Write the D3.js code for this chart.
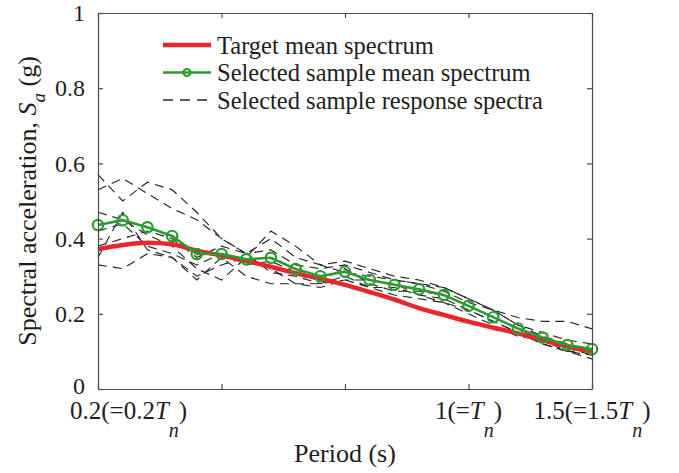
<!DOCTYPE html>
<html>
<head>
<meta charset="utf-8">
<script src="https://cdn.jsdelivr.net/npm/d3@7"></script>
<style>
  html, body { margin: 0; padding: 0; background: #fff; }
  svg { display: block; font-family: "Liberation Serif", "Times New Roman", serif; }
</style>
</head>
<body>
<svg id="chart" width="679" height="473"></svg>
<script>
// Periods (s) at which the spectra are evaluated
const periods = [0.2, 0.2533, 0.3067, 0.36, 0.4133, 0.4667, 0.52, 0.5733, 0.6267, 0.68,
                 0.7333, 0.7867, 0.84, 0.8933, 0.9467, 1.0, 1.1, 1.2, 1.3, 1.4, 1.5];

// Target mean spectrum Sa (g)
const targetMean = [0.372, 0.383, 0.389, 0.385, 0.368, 0.355, 0.341, 0.325, 0.308, 0.293,
                    0.277, 0.258, 0.238, 0.215, 0.197, 0.179, 0.163, 0.148, 0.130, 0.113, 0.099];

// Mean of the selected records
const sampleMean = [0.436, 0.449, 0.430, 0.407, 0.359, 0.359, 0.345, 0.349, 0.319, 0.300,
                    0.312, 0.290, 0.277, 0.265, 0.250, 0.221, 0.191, 0.161, 0.137, 0.117, 0.106];

// Response spectra of the individual selected records
const record1 = [0.57, 0.50, 0.55, 0.53, 0.47, 0.40, 0.36, 0.40, 0.35, 0.33, 0.34, 0.32, 0.30, 0.29, 0.27, 0.24, 0.21, 0.17, 0.15, 0.13, 0.12];
const record2 = [0.53, 0.56, 0.52, 0.48, 0.45, 0.40, 0.36, 0.37, 0.33, 0.32, 0.33, 0.31, 0.29, 0.28, 0.26, 0.23, 0.21, 0.19, 0.18, 0.18, 0.16];
const record3 = [0.47, 0.45, 0.41, 0.38, 0.32, 0.29, 0.35, 0.42, 0.38, 0.33, 0.31, 0.30, 0.29, 0.28, 0.27, 0.24, 0.21, 0.17, 0.14, 0.12, 0.10];
const record4 = [0.42, 0.44, 0.38, 0.36, 0.33, 0.36, 0.33, 0.34, 0.31, 0.29, 0.32, 0.28, 0.26, 0.26, 0.25, 0.22, 0.19, 0.16, 0.13, 0.11, 0.09];
const record5 = [0.38, 0.40, 0.42, 0.40, 0.35, 0.38, 0.36, 0.31, 0.30, 0.28, 0.30, 0.27, 0.27, 0.25, 0.24, 0.21, 0.18, 0.15, 0.12, 0.10, 0.09];
const record6 = [0.33, 0.32, 0.36, 0.35, 0.30, 0.33, 0.35, 0.32, 0.28, 0.27, 0.29, 0.27, 0.25, 0.24, 0.23, 0.21, 0.18, 0.15, 0.12, 0.10, 0.08];
const record7 = [0.35, 0.47, 0.37, 0.35, 0.29, 0.35, 0.30, 0.28, 0.28, 0.28, 0.29, 0.29, 0.28, 0.25, 0.23, 0.20, 0.17, 0.14, 0.13, 0.10, 0.10];
const records = [record1, record2, record3, record4, record5, record6, record7];

// Axis ticks
const xTicks = [0.2, 0.4667, 0.7333, 1.0, 1.5];
const xTickLabels = ["0.2(=0.2T_n)", "", "", "1(=T_n)", "1.5(=1.5T_n)"];
const yTicks = [0, 0.2, 0.4, 0.6, 0.8, 1];
const yTickLabels = ["0", "0.2", "0.4", "0.6", "0.8", "1"];

const legendLabels = ["Target mean spectrum", "Selected sample mean spectrum", "Selected sample response spectra"];

// ---- drawing ----
const svg = d3.select("#chart");
const plotLeft = 98, plotRight = 592, plotTop = 13, plotBottom = 389;
const axisColor = "#4a4a4a";
const red = "#e8262b", green = "#2e9b32";
const textColor = "#1e1e1e";

// Period axis: 0.2–1.0 spans three quarters of the width, 1.0–1.5 the last quarter
const x = d3.scaleLinear().domain([0.2, 1.0, 1.5])
  .range([plotLeft, plotLeft + 0.75 * (plotRight - plotLeft), plotRight]);
const y = d3.scaleLinear().domain([0, 1]).range([plotBottom, plotTop]);

const line = d3.line().x((d, i) => x(periods[i])).y(d => y(d));
const smooth = d3.line().x((d, i) => x(periods[i])).y(d => y(d)).curve(d3.curveMonotoneX);

const plot = svg.append("g");

// individual record spectra
plot.selectAll("path.rec").data(records).join("path")
  .attr("class", "rec")
  .attr("d", line)
  .attr("fill", "none")
  .attr("stroke", "#262626")
  .attr("stroke-width", 1.15)
  .attr("stroke-dasharray", "9,6");

// target spectrum
plot.append("path").datum(targetMean)
  .attr("d", smooth)
  .attr("fill", "none")
  .attr("stroke", red)
  .attr("stroke-width", 4.5)
  .attr("stroke-linejoin", "round");

// selected sample mean
plot.append("path").datum(sampleMean)
  .attr("d", line)
  .attr("fill", "none")
  .attr("stroke", green)
  .attr("stroke-width", 2.6);
plot.selectAll("circle.m").data(sampleMean).join("circle")
  .attr("class", "m")
  .attr("cx", (d, i) => x(periods[i]))
  .attr("cy", d => y(d))
  .attr("r", 5.2)
  .attr("fill", "none")
  .attr("stroke", green)
  .attr("stroke-width", 2.2);

// axes (box with inward ticks on all sides)
function styleAxis(g) {
  g.selectAll("path, line").attr("stroke", axisColor).attr("stroke-width", 1.2);
  g.selectAll("text").attr("fill", textColor).attr("font-family", "Liberation Serif, Times New Roman, serif");
}
svg.append("g").attr("transform", `translate(0,${plotBottom})`)
  .call(d3.axisBottom(x).tickValues(xTicks).tickSizeInner(-5).tickSizeOuter(0).tickFormat(""))
  .call(styleAxis);
svg.append("g").attr("transform", `translate(0,${plotTop})`)
  .call(d3.axisTop(x).tickValues(xTicks).tickSizeInner(-5).tickSizeOuter(0).tickFormat(""))
  .call(styleAxis);
svg.append("g").attr("transform", `translate(${plotRight},0)`)
  .call(d3.axisRight(y).tickValues(yTicks).tickSizeInner(-5).tickSizeOuter(0).tickFormat(""))
  .call(styleAxis);
const yAxis = svg.append("g").attr("transform", `translate(${plotLeft},0)`)
  .call(d3.axisLeft(y).tickValues(yTicks).tickSizeInner(-5).tickSizeOuter(0).tickPadding(13)
        .tickFormat((d, i) => yTickLabels[i]))
  .call(styleAxis);
yAxis.selectAll("text").attr("font-size", 24);
// the zero label sits a little above its tick so it clears the period labels
yAxis.selectAll(".tick text").filter(d => d === 0).attr("dy", "0.2em");

// period tick labels with italic T and subscript n
const xLab = svg.append("g").attr("font-size", 25).attr("fill", textColor);
xTicks.forEach((t, i) => {
  const s = xTickLabels[i];
  if (!s) return;
  const m = s.match(/^(.*)T_n(.*)$/);
  const txt = xLab.append("text")
    .attr("x", x(t) + (i === 0 ? -28 : 0))
    .attr("y", 419)
    .attr("text-anchor", i === 0 ? "start" : "middle");
  txt.append("tspan").text(m[1]);
  txt.append("tspan").attr("font-style", "italic").text("T");
  txt.append("tspan").attr("font-style", "italic").attr("font-size", 20).attr("dy", 18).text("n");
  txt.append("tspan").attr("dy", -18).text(m[2]);
});

// axis titles
svg.append("text")
  .attr("x", (plotLeft + plotRight) / 2).attr("y", 462)
  .attr("text-anchor", "middle").attr("font-size", 26).attr("fill", textColor)
  .text("Period (s)");

const yt = svg.append("text")
  .attr("transform", "translate(36,201) rotate(-90)")
  .attr("text-anchor", "middle").attr("font-size", 26).attr("fill", textColor);
yt.append("tspan").text("Spectral acceleration, ");
yt.append("tspan").attr("font-style", "italic").text("S");
yt.append("tspan").attr("font-style", "italic").attr("font-size", 19).attr("dy", 9).text("a");
yt.append("tspan").attr("dy", -9).text(" (g)");

// legend
const lg = svg.append("g");
const rowY = [45, 72.5, 100];
const lx0 = 163, lx1 = 211;
lg.append("line").attr("x1", lx0).attr("x2", lx1).attr("y1", rowY[0]).attr("y2", rowY[0])
  .attr("stroke", red).attr("stroke-width", 4.5);
lg.append("line").attr("x1", lx0).attr("x2", lx1).attr("y1", rowY[1]).attr("y2", rowY[1])
  .attr("stroke", green).attr("stroke-width", 2.6);
lg.append("circle").attr("cx", (lx0 + lx1) / 2).attr("cy", rowY[1]).attr("r", 3.5)
  .attr("fill", "none").attr("stroke", green).attr("stroke-width", 2.2);
lg.append("line").attr("x1", lx0).attr("x2", lx1).attr("y1", rowY[2]).attr("y2", rowY[2])
  .attr("stroke", "#262626").attr("stroke-width", 1.3).attr("stroke-dasharray", "10,7");
lg.selectAll("text").data(legendLabels).join("text")
  .attr("x", 217).attr("y", (d, i) => rowY[i] + 8.5)
  .attr("font-size", 24.5).attr("fill", textColor)
  .text(d => d);
</script>
</body>
</html>
